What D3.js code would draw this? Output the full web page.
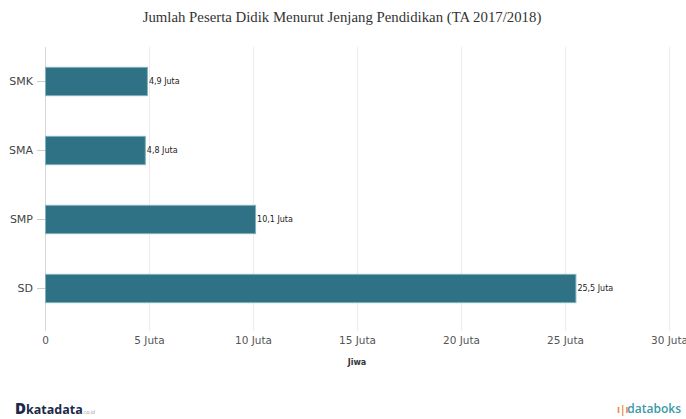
<!DOCTYPE html>
<html>
<head>
<meta charset="utf-8">
<script src="https://cdn.jsdelivr.net/npm/d3@7"></script>
<style>
  body { margin: 0; background: #fff; }
  svg { display: block; }
</style>
</head>
<body>
<div id="chart"></div>
<script>
// Data
const categories = ['SMK', 'SMA', 'SMP', 'SD'];
const values = [4.9, 4.8, 10.1, 25.5];
const valueLabels = ['4,9 Juta', '4,8 Juta', '10,1 Juta', '25,5 Juta'];
const xTicks = [0, 5, 10, 15, 20, 25, 30];
const xTickLabels = ['0', '5 Juta', '10 Juta', '15 Juta', '20 Juta', '25 Juta', '30 Juta'];

const W = 686, H = 419;
const margin = { top: 47, right: 17, bottom: 96, left: 45 };
const width = W - margin.left - margin.right;
const height = H - margin.top - margin.bottom;

const svg = d3.select('#chart').append('svg')
    .attr('width', W)
    .attr('height', H);

// title
svg.append('text')
    .attr('x', 342)
    .attr('y', 22)
    .attr('text-anchor', 'middle')
    .style('font-family', '"Liberation Serif", serif')
    .style('font-size', '14.8px')
    .style('fill', '#333')
    .text('Jumlah Peserta Didik Menurut Jenjang Pendidikan (TA 2017/2018)');

const g = svg.append('g')
    .attr('transform', `translate(${margin.left},${margin.top})`);

const x = d3.scaleLinear()
    .domain([0, 30])
    .range([0, width]);

const y = d3.scaleBand()
    .domain(categories)
    .range([0, height])
    .paddingInner(0.59)
    .paddingOuter(0.295);

// grid lines
g.append('g')
    .selectAll('line')
    .data(xTicks)
    .enter().append('line')
    .attr('x1', d => Math.round(x(d)) + 0.5)
    .attr('x2', d => Math.round(x(d)) + 0.5)
    .attr('y1', 0)
    .attr('y2', height + 8)
    .attr('stroke', d => d === 0 ? '#d8d8d8' : '#ececec')
    .attr('stroke-width', 1);

// x axis (last label runs off the right edge, as in the original)
const xAxis = g.append('g')
    .attr('transform', `translate(0,${height})`)
    .call(d3.axisBottom(x).tickValues(xTicks).tickFormat((d, i) => xTickLabels[i]).tickSize(0).tickPadding(14));
xAxis.select('.domain').remove();
xAxis.selectAll('text')
    .style('font-family', '"DejaVu Sans", Verdana, sans-serif')
    .style('font-size', '10.5px')
    .style('fill', '#555');

// y axis
const yAxis = g.append('g')
    .call(d3.axisLeft(y).tickSize(8).tickPadding(4));
yAxis.select('.domain').remove();
yAxis.selectAll('line').attr('stroke', '#ccc');
yAxis.selectAll('text')
    .style('font-family', '"DejaVu Sans", Verdana, sans-serif')
    .style('font-size', '11px')
    .style('fill', '#444');

// bars
g.selectAll('.bar')
    .data(values)
    .enter().append('rect')
    .attr('class', 'bar')
    .attr('x', 0.5)
    .attr('y', (d, i) => y(categories[i]))
    .attr('width', d => x(d))
    .attr('height', y.bandwidth())
    .attr('fill', '#2f7285')
    .attr('stroke', '#7fb1bd')
    .attr('stroke-width', 1);

// value labels
g.selectAll('.val')
    .data(values)
    .enter().append('text')
    .attr('class', 'val')
    .attr('x', d => x(d) + 2)
    .attr('y', (d, i) => y(categories[i]) + y.bandwidth() / 2)
    .attr('dy', '0.35em')
    .style('font-family', '"DejaVu Sans", Verdana, sans-serif')
    .style('font-size', '8px')
    .style('fill', '#222')
    .text((d, i) => valueLabels[i]);

// x axis title
g.append('text')
    .attr('x', width / 2)
    .attr('y', height + 42)
    .attr('text-anchor', 'middle')
    .style('font-family', '"DejaVu Sans", Verdana, sans-serif')
    .style('font-size', '8px')
    .style('font-weight', 'bold')
    .style('fill', '#333')
    .text('Jiwa');

// footer logos
const left = svg.append('text')
    .attr('x', 15)
    .attr('y', 414)
    .style('font-family', '"Open Sans", sans-serif')
    .style('fill', '#1c2a4a');
left.append('tspan').style('font-size', '15px').style('font-weight', '800').text('D');
left.append('tspan').style('font-size', '12.5px').style('font-weight', '700').text('katadata');
left.append('tspan').style('font-size', '5px').style('fill', '#999').text('.co.id');

svg.append('text')
    .attr('x', 617)
    .attr('y', 413)
    .style('font-family', '"Open Sans", sans-serif')
    .style('font-size', '10px')
    .style('fill', '#e8894a')
    .style('font-weight', 'bold')
    .text('\u0131|\u0131');

svg.append('text')
    .attr('x', 681)
    .attr('y', 413)
    .attr('text-anchor', 'end')
    .style('font-family', '"Open Sans", sans-serif')
    .style('font-size', '12px')
    .style('font-weight', '600')
    .style('fill', '#3a9aa6')
    .text('databoks');
</script>
</body>
</html>
